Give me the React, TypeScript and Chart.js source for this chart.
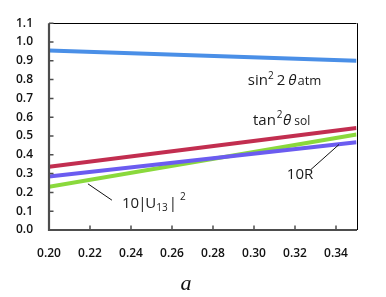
import React, { useEffect, useRef } from "react";
import { Chart, registerables } from "chart.js";

Chart.register(...registerables);

const aValues = [0.2, 0.35];
const sinAtm = [0.955, 0.9];
const tanSol = [0.336, 0.542];
const tenR = [0.285, 0.467];
const tenU13 = [0.23, 0.508];

const xTickValues = [0.2, 0.22, 0.24, 0.26, 0.28, 0.3, 0.32, 0.34];
const yTickValues = [0, 0.1, 0.2, 0.3, 0.4, 0.5, 0.6, 0.7, 0.8, 0.9, 1.0, 1.1];

const COLORS = {
  sin: "#4a8fe7",
  tan: "#c22e50",
  r: "#6b5cf0",
  u: "#8ad93c",
};

const FONT = "'Open Sans', sans-serif";

function pts(ys: number[]) {
  return aValues.map((x, i) => ({ x, y: ys[i] }));
}

const axisPlugin = {
  id: "axisPlugin",
  afterDatasetsDraw(chart: any) {
    const { ctx, chartArea: ca, scales } = chart;
    const xs = scales.x;
    const ys = scales.y;
    ctx.save();
    ctx.strokeStyle = "#000";
    ctx.lineWidth = 1;
    ctx.beginPath();
    ctx.moveTo(ca.left, Math.round(ca.top) + 0.5);
    ctx.lineTo(ca.right, Math.round(ca.top) + 0.5);
    ctx.moveTo(Math.round(ca.right) + 0.5, ca.top);
    ctx.lineTo(Math.round(ca.right) + 0.5, ca.bottom);
    ctx.stroke();
    ctx.strokeStyle = "#4d4d4d";
    ctx.lineWidth = 2.2;
    ctx.beginPath();
    ctx.moveTo(ca.left, ca.top);
    ctx.lineTo(ca.left, ca.bottom);
    ctx.lineTo(ca.right + 0.5, ca.bottom);
    ctx.stroke();
    ctx.lineWidth = 1.5;
    ctx.beginPath();
    yTickValues.forEach((v) => {
      const y = ys.getPixelForValue(v);
      ctx.moveTo(ca.left, y);
      ctx.lineTo(ca.left + 4.5, y);
    });
    xTickValues.forEach((v) => {
      const x = xs.getPixelForValue(v);
      ctx.moveTo(x, ca.bottom);
      ctx.lineTo(x, ca.bottom - 4.5);
    });
    ctx.stroke();

    ctx.strokeStyle = "#111";
    ctx.lineWidth = 1;
    ctx.beginPath();
    ctx.moveTo(xs.getPixelForValue(0.3415), ys.getPixelForValue(0.455));
    ctx.lineTo(xs.getPixelForValue(0.3278), ys.getPixelForValue(0.322));
    ctx.moveTo(xs.getPixelForValue(0.219), ys.getPixelForValue(0.2455));
    ctx.lineTo(xs.getPixelForValue(0.2307), ys.getPixelForValue(0.1586));
    ctx.stroke();

    ctx.fillStyle = "#1a1a1a";
    ctx.textBaseline = "alphabetic";
    ctx.textAlign = "left";

    type Piece = { t: string; size: number; italic?: boolean; dy?: number; gap?: number };
    const drawPieces = (x0: number, y0: number, pieces: Piece[]) => {
      let x = x0;
      pieces.forEach((p) => {
        x += p.gap || 0;
        ctx.font = `${p.italic ? "italic " : ""}${p.size}px ${FONT}`;
        ctx.fillText(p.t, x, y0 + (p.dy || 0));
        x += ctx.measureText(p.t).width;
      });
    };

    drawPieces(xs.getPixelForValue(0.297), ys.getPixelForValue(0.772), [
      { t: "sin", size: 15 },
      { t: "2", size: 10, dy: -6 },
      { t: "2", size: 15, gap: 3 },
      { t: "θ", size: 15, italic: true, gap: 3 },
      { t: "atm", size: 13, gap: 1 },
    ]);
    drawPieces(xs.getPixelForValue(0.2995), ys.getPixelForValue(0.558), [
      { t: "tan", size: 15 },
      { t: "2", size: 10, dy: -7, gap: 1 },
      { t: "θ", size: 15, italic: true, gap: 0.5 },
      { t: "sol", size: 12, gap: 3 },
    ]);
    drawPieces(xs.getPixelForValue(0.316), ys.getPixelForValue(0.271), [
      { t: "10R", size: 15 },
    ]);
    drawPieces(xs.getPixelForValue(0.2356), ys.getPixelForValue(0.118), [
      { t: "10", size: 15 },
      { t: "|", size: 15, gap: -1 },
      { t: "U", size: 15, gap: -1 },
      { t: "13", size: 10, dy: 3 },
      { t: "|", size: 15, gap: 1 },
      { t: "2", size: 10, dy: -8, gap: 3 },
    ]);

    ctx.font = "italic 22px 'Liberation Serif', serif";
    ctx.textAlign = "center";
    ctx.fillStyle = "#111";
    ctx.fillText("a", xs.getPixelForValue(0.2668), 290);
    ctx.restore();
  },
};

export default function App() {
  const ref = useRef<HTMLCanvasElement>(null);
  useEffect(() => {
    if (!ref.current) return;
    const ds = (data: number[], color: string) => ({
      data: pts(data),
      borderColor: color,
      backgroundColor: color,
      borderWidth: 4,
      pointRadius: 0,
      fill: false,
      tension: 0,
    });
    const chart = new Chart(ref.current, {
      type: "line",
      data: {
        datasets: [
          ds(sinAtm, COLORS.sin),
          ds(tanSol, COLORS.tan),
          ds(tenR, COLORS.r),
          ds(tenU13, COLORS.u),
        ],
      },
      options: {
        animation: false,
        responsive: false,
        layout: { padding: { top: 15, right: 29.5, left: 0, bottom: 0 } },
        plugins: { legend: { display: false }, tooltip: { enabled: false } },
        scales: {
          x: {
            type: "linear",
            min: 0.2,
            max: 0.35,
            grid: { display: false, drawTicks: false },
            border: { display: false },
            afterBuildTicks: (s: any) => {
              s.ticks = xTickValues.map((v) => ({ value: v }));
            },
            afterFit: (s: any) => {
              s.height = 67;
            },
            ticks: {
              padding: 16,
              maxRotation: 0,
              autoSkip: false,
              color: "#111",
              font: { family: FONT, size: 12, weight: "600" },
              callback: (v: any) => Number(v).toFixed(2),
            },
          },
          y: {
            type: "linear",
            min: 0,
            max: 1.1,
            grid: { display: false, drawTicks: false },
            border: { display: false },
            afterBuildTicks: (s: any) => {
              s.ticks = yTickValues.map((v) => ({ value: v }));
            },
            afterFit: (s: any) => {
              s.width = 49;
            },
            ticks: {
              padding: 16,
              autoSkip: false,
              color: "#111",
              font: { family: FONT, size: 12, weight: "600" },
              callback: (v: any) => Number(v).toFixed(1),
            },
          },
        },
      } as any,
      plugins: [axisPlugin],
    });
    return () => chart.destroy();
  }, []);
  return (
    <div style={{ position: "absolute", left: 0, top: 0, width: 386, height: 297, background: "#fff" }}>
      <canvas ref={ref} width={386} height={297} style={{ display: "block" }} />
    </div>
  );
}
